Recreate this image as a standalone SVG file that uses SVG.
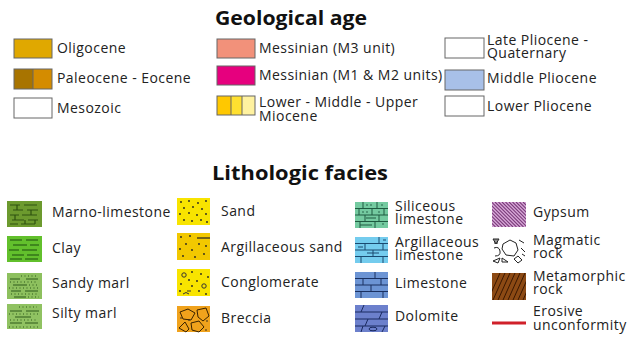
<svg xmlns="http://www.w3.org/2000/svg" width="630" height="343" viewBox="0 0 630 343">
<defs>
<style>
text{font-family:"Open Sans","Liberation Sans",sans-serif;font-size:14px;letter-spacing:0.45px;fill:#222}
.title{font-size:19.5px;font-weight:bold;fill:#111;letter-spacing:0}
.sw{stroke:#666;stroke-width:1}
.dk{fill:none;stroke-width:1.2;stroke-linecap:butt}
.dot{fill:#222}
</style>
</defs>
<rect width="630" height="343" fill="#fff"/>
<text class="title" x="215" y="25" textLength="152" lengthAdjust="spacingAndGlyphs">Geological age</text>
<text class="title" x="212" y="180" textLength="176" lengthAdjust="spacingAndGlyphs">Lithologic facies</text>

<!-- Geological age -->
<g id="oligocene"><rect class="sw" x="14" y="39" width="38" height="19" fill="#E0A800"/><text x="57" y="53">Oligocene</text></g>
<g id="paleocene"><rect x="14" y="69" width="19" height="20" fill="#A87400"/><rect x="33" y="69" width="19" height="20" fill="#D48C00"/><rect class="sw" x="14" y="69" width="38" height="20" fill="none"/><line x1="33" y1="69" x2="33" y2="89" stroke="#666"/><text x="57" y="83">Paleocene - Eocene</text></g>
<g id="mesozoic"><rect class="sw" x="14" y="98" width="38" height="20" fill="#fff"/><text x="57" y="113">Mesozoic</text></g>

<g id="messinian-m3"><rect class="sw" x="217" y="39" width="38" height="19" fill="#F2917A"/><text x="259" y="53">Messinian (M3 unit)</text></g>
<g id="messinian-m1m2"><rect class="sw" x="217" y="66" width="38" height="19" fill="#E6007E"/><text x="259" y="80">Messinian (M1 &amp; M2 units)</text></g>
<g id="miocene"><rect x="217" y="96" width="14" height="19" fill="#FFC800"/><rect x="231" y="96" width="11" height="19" fill="#FFE030"/><rect x="242" y="96" width="13" height="19" fill="#FFF2A0"/><rect class="sw" x="217" y="96" width="38" height="19" fill="none"/><path d="M231 96v19M242 96v19" stroke="#666"/><text x="259" y="107">Lower - Middle - Upper</text><text x="259" y="121">Miocene</text></g>

<g id="late-pliocene"><rect class="sw" x="445" y="38" width="39" height="20" fill="#fff"/><text x="487" y="44.5">Late Pliocene -</text><text x="487" y="57.5">Quaternary</text></g>
<g id="middle-pliocene"><rect class="sw" x="445" y="70" width="39" height="20" fill="#A8C0E8"/><text x="487" y="83">Middle Pliocene</text></g>
<g id="lower-pliocene"><rect class="sw" x="445" y="96" width="39" height="20" fill="#fff"/><text x="487" y="111">Lower Pliocene</text></g>

<!-- Lithologic facies column 1 -->
<g id="marno-limestone"><g transform="translate(7,201)"><rect width="35" height="26" fill="#6C9A2E"/><path class="dk" stroke="#2E5210" d="M3 4h10M17 4h13M6 9h10M20 9h11M3 14h9M15 14h15M5 19h12M21 19h10M3 23h8M14 23h14M10 4v5M24 9v5M8 14v5M28 19v4M18 19v4"/></g><text x="52" y="217">Marno-limestone</text></g>
<g id="clay"><g transform="translate(7,236)"><rect width="35" height="26" fill="#62C02C"/><path class="dk" stroke="#1C4E0E" d="M3 4h12M19 4h12M6 9h14M23 9h9M2 14h10M15 14h15M5 19h12M20 19h12M3 23h12M18 23h13"/></g><text x="52" y="253">Clay</text></g>
<g id="sandy-marl"><g transform="translate(7,273)"><rect width="35" height="26" fill="#8DC05E"/><path class="dk" stroke="#2E5A1A" d="M3 6h10M19 6h12M6 12h14M4 18h10M18 18h13M7 24h12"/><path fill="none" stroke="#2E5A1A" stroke-width="1" stroke-dasharray="1 2.5" d="M14 3h16M3 9h28M22 12h10M2 15h30M4 21h27M21 24h11"/></g><text x="52" y="288">Sandy marl</text></g>
<g id="silty-marl"><g transform="translate(7,304)"><rect width="35" height="25" fill="#90C262"/><path class="dk" stroke="#2E5A1A" d="M3 7h12M19 7h13M8 13h16M3 19h12M18 19h13"/><path fill="none" stroke="#2E5A1A" stroke-width="1" stroke-dasharray="1 2.5" d="M12 3h18M2 10h30M3 16h28M2 23h30"/></g><text x="52" y="318">Silty marl</text></g>

<!-- column 2 -->
<g id="sand"><g transform="translate(177,198)"><rect width="33" height="27" fill="#F8E400"/><g class="dot"><circle cx="4" cy="4" r="0.9"/><circle cx="12" cy="3" r="0.9"/><circle cx="21" cy="5" r="0.9"/><circle cx="29" cy="3" r="0.9"/><circle cx="7" cy="10" r="0.9"/><circle cx="16" cy="9" r="0.9"/><circle cx="25" cy="11" r="0.9"/><circle cx="3" cy="16" r="0.9"/><circle cx="12" cy="15" r="0.9"/><circle cx="20" cy="17" r="0.9"/><circle cx="29" cy="16" r="0.9"/><circle cx="7" cy="22" r="0.9"/><circle cx="15" cy="23" r="0.9"/><circle cx="24" cy="22" r="0.9"/><circle cx="30" cy="24" r="0.9"/></g></g><text x="221" y="216">Sand</text></g>
<g id="argillaceous-sand"><g transform="translate(177,233)"><rect width="33" height="27" fill="#F2C800"/><path class="dk" stroke="#222" d="M20 5h13"/><g class="dot"><circle cx="4" cy="4" r="0.9"/><circle cx="13" cy="3" r="0.9"/><circle cx="9" cy="11" r="0.9"/><circle cx="22" cy="11" r="0.9"/><circle cx="29" cy="13" r="0.9"/><circle cx="3" cy="16" r="0.9"/><circle cx="15" cy="17" r="0.9"/><circle cx="6" cy="23" r="0.9"/><circle cx="18" cy="24" r="0.9"/><circle cx="27" cy="21" r="0.9"/></g></g><text x="221" y="252">Argillaceous sand</text></g>
<g id="conglomerate"><g transform="translate(177,269)"><rect width="33" height="27" fill="#F8E400"/><g fill="none" stroke="#333" stroke-width="1"><circle cx="7" cy="6" r="2.2"/><circle cx="27" cy="17" r="2.2"/><path d="M6 25q3-3 6 0M10 22h4"/></g><g class="dot"><circle cx="15" cy="3" r="0.9"/><circle cx="24" cy="5" r="0.9"/><circle cx="31" cy="8" r="0.9"/><circle cx="12" cy="11" r="0.9"/><circle cx="20" cy="12" r="0.9"/><circle cx="4" cy="15" r="0.9"/><circle cx="15" cy="17" r="0.9"/><circle cx="22" cy="22" r="0.9"/><circle cx="29" cy="25" r="0.9"/><circle cx="3" cy="22" r="0.9"/></g></g><text x="221" y="287">Conglomerate</text></g>
<g id="breccia"><g transform="translate(177,306)"><rect width="33" height="26" fill="#F0A21C"/><g fill="none" stroke="#3A2200" stroke-width="1"><path d="M3 6l8-3 7 4-4 7-8-1z"/><path d="M20 4l9-2 3 8-6 5-5-4z"/><path d="M2 22l6-6 4 7-3 3z"/><path d="M14 17l8-2 5 6-5 5-7-2z"/></g><g class="dot"><circle cx="29" cy="24" r="0.8"/><circle cx="12" cy="14" r="0.8"/><circle cx="30" cy="15" r="0.8"/><circle cx="4" cy="12" r="0.8"/></g></g><text x="221" y="323">Breccia</text></g>

<!-- column 3 -->
<g id="siliceous-limestone"><g transform="translate(355,202)"><rect width="33" height="26" fill="#74CAA0"/><path fill="none" stroke="#1E5A40" stroke-width="1" d="M0 6.5h33M0 13h33M0 19.5h33M8 0v6.5M22 0v6.5M4 6.5v6.5M17 6.5v6.5M29 6.5v6.5M10 13v6.5M24 13v6.5M5 19.5v6.5M20 19.5v6.5"/><path class="dk" stroke="#1E5A40" d="M11 16h10M5 23h12"/><g fill="#1E5A40"><circle cx="12" cy="3" r="0.8"/><circle cx="16" cy="3" r="0.8"/><circle cx="27" cy="3" r="0.8"/><circle cx="8" cy="10" r="0.8"/><circle cx="12" cy="10" r="0.8"/><circle cx="24" cy="10" r="0.8"/><circle cx="28" cy="22" r="0.8"/></g></g><text x="395" y="210.5">Siliceous</text><text x="395" y="223.5">limestone</text></g>
<g id="argillaceous-limestone"><g transform="translate(355,237)"><rect width="33" height="26" fill="#74CCEE"/><path fill="none" stroke="#1A4A70" stroke-width="1" d="M0 6.5h33M0 13h33M0 19.5h33M24 0v6.5M10 6.5v6.5M28 6.5v6.5M18 13v6.5M6 19.5v6.5M28 19.5v6.5"/><path class="dk" stroke="#1A4A70" d="M3 10h5M12 16h12M28 3h3"/></g><text x="395" y="246.5">Argillaceous</text><text x="395" y="259.5">limestone</text></g>
<g id="limestone"><g transform="translate(355,272)"><rect width="33" height="26" fill="#6C94D4"/><path fill="none" stroke="#1A3060" stroke-width="1" d="M0 6.5h33M0 13h33M0 19.5h33M20 0v6.5M8 6.5v6.5M26 6.5v6.5M16 13v6.5M6 19.5v6.5M28 19.5v6.5"/></g><text x="395" y="288">Limestone</text></g>
<g id="dolomite"><g transform="translate(355,305)"><rect width="33" height="27" fill="#6C80CC"/><path fill="none" stroke="#1A2A60" stroke-width="1" d="M0 7h33M0 14h33M0 21h33M9 0l-3 7M27 7l-3 7M13 14l-3 7M30 21l-3 6M8 21l-2 6"/><ellipse cx="18" cy="24" rx="4" ry="1.8" fill="none" stroke="#1A2A60"/></g><text x="395" y="321">Dolomite</text></g>

<!-- column 4 -->
<g id="gypsum"><g transform="translate(492,202)"><rect width="34" height="25" fill="#D8A8D8"/><clipPath id="cg"><rect width="34" height="25"/></clipPath><g clip-path="url(#cg)"><path fill="none" stroke="#7A3C7A" stroke-width="1.1" d="M-25 0l25 25M-21.5 0l25 25M-18 0l25 25M-14.5 0l25 25M-11 0l25 25M-7.5 0l25 25M-4 0l25 25M-0.5 0l25 25M3 0l25 25M6.5 0l25 25M10 0l25 25M13.5 0l25 25M17 0l25 25M20.5 0l25 25M24 0l25 25M27.5 0l25 25M31 0l25 25"/></g></g><text x="533" y="217">Gypsum</text></g>
<g id="magmatic-rock"><g transform="translate(492,237)"><rect width="34" height="27" fill="#fff"/><g fill="none" stroke="#222" stroke-width="1"><path d="M1 2h6l-3 5zM3 2v5M5 2v5"/><path d="M11 7l7-4 6 3 2 7-4 6-8-1-4-6z"/><path d="M2 11q5-2 6 3t-5 5"/><path d="M1 24l7-3-2 5z"/><path d="M10 21l6 4h-6z"/><path d="M22 22l4-3 4 4-4 3z"/><path d="M27 3l5 3M29 11l4 4M30 17l3 2"/></g></g><text x="533" y="244.5">Magmatic</text><text x="533" y="257.5">rock</text></g>
<g id="metamorphic-rock"><g transform="translate(492,273)"><rect width="34" height="27" fill="#8C4A14"/><clipPath id="cm"><rect width="34" height="27"/></clipPath><g clip-path="url(#cm)"><path fill="none" stroke="#3A1800" stroke-width="1" d="M-4 27l12-27M1 27l12-27M6 27l12-27M11 27l12-27M16 27l12-27M21 27l12-27M26 27l12-27M31 27l12-27M36 27l12-27"/></g></g><text x="533" y="280.5">Metamorphic</text><text x="533" y="293.5">rock</text></g>
<g id="erosive-unconformity"><line x1="492" y1="323" x2="526" y2="323" stroke="#D0202A" stroke-width="3"/><text x="533" y="316">Erosive</text><text x="533" y="330">unconformity</text></g>
</svg>
